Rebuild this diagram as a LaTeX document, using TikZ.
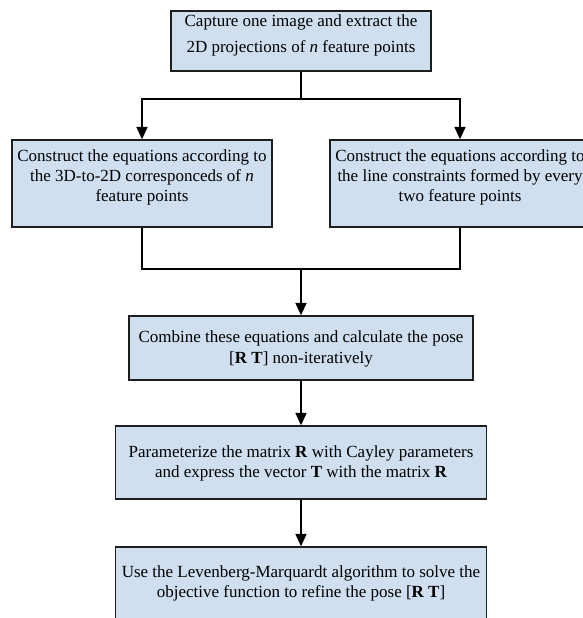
\documentclass[tikz,border=0pt]{standalone}
\usepackage{fontspec}
\setmainfont{Liberation Serif}
\usetikzlibrary{arrows.meta}
\definecolor{boxfill}{RGB}{207,223,240}
\definecolor{boxline}{RGB}{30,30,30}
\tikzset{
  stepbox/.style={draw=boxline, line width=1.3pt, fill=boxfill, inner sep=0pt, rectangle},
  txt/.style={align=center, inner sep=0pt, font=\fontsize{17}{20}\selectfont},
  conn/.style={line width=1.7pt, black},
  arr/.style={conn, -{Triangle[length=12.5pt,width=11pt]}}
}
\begin{document}
\begin{tikzpicture}[x=1pt,y=-1pt]
\useasboundingbox (0,0) rectangle (583,618);
\clip (0,0) rectangle (583,618);
% boxes
\node[stepbox, minimum width=260pt, minimum height=60pt] (b1) at (301,41) {};
\node[stepbox, minimum width=260pt, minimum height=87pt] (b2) at (142,183.5) {};
\node[stepbox, minimum width=260pt, minimum height=87pt] (b3) at (460,183.5) {};
\node[stepbox, minimum width=344pt, minimum height=64pt] (b4) at (301,348) {};
\node[stepbox, minimum width=371pt, minimum height=73pt] (b5) at (301,462.5) {};
\node[stepbox, minimum width=371pt, minimum height=90pt] (b6) at (301,592) {};
% texts
\node[txt, font=\fontsize{17}{26}\selectfont] (t1) at (301,35) {Capture one image and extract the\\2D projections of \textit{n} feature points};
\node[txt] (t2) at (142,177) {Construct the equations according to\\the 3D-to-2D corresponceds of \textit{n}\\feature points};
\node[txt] (t3) at (460,177) {Construct the equations according to\\the line constraints formed by every\\two feature points};
\node[txt, font=\fontsize{17}{21}\selectfont] (t4) at (301,348.5) {Combine these equations and calculate the pose\\{}[\textbf{R T}] non-iteratively};
\node[txt] (t5) at (301,463) {Parameterize the matrix \textbf{R} with Cayley parameters\\and express the vector \textbf{T} with the matrix \textbf{R}};
\node[txt] (t6) at (301,583) {Use the Levenberg-Marquardt algorithm to solve the\\objective function to refine the pose [\textbf{R T}]};
% connectors
\coordinate (j1) at (301,99);
\coordinate (j2) at (301,269);
\draw[conn] (b1.south) -- (j1);
\draw[arr] (j1) -| (b2.north);
\draw[arr] (j1) -| (b3.north);
\draw[conn] (b2.south) |- (j2);
\draw[conn] (b3.south) |- (j2);
\draw[arr] (j2) -- (b4.north);
\draw[arr] (b4.south) -- (b5.north);
\draw[arr] (b5.south) -- (b6.north);
\end{tikzpicture}
\end{document}
